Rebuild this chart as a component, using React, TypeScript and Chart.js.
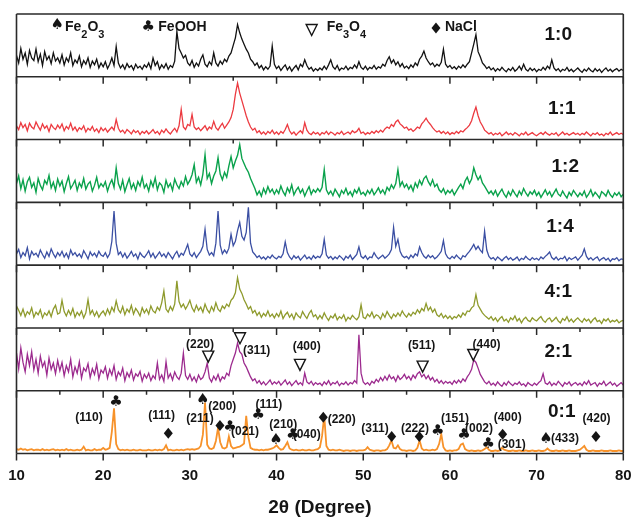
import React, { useEffect, useRef } from 'react';
import { Chart, registerables } from 'chart.js';

Chart.register(...registerables);

// ---- x sampling (2θ, degrees) ----
const ANGLE_START = 10;
const ANGLE_STEP = 0.25;
const X_MIN = 10;
const X_MAX = 80;
const X_LABEL_STEP = 10;
const MAJOR_TICKS = [10, 20, 30, 40, 50, 60, 70, 80];
const MINOR_TICKS = [15, 25, 35, 45, 55, 65, 75];

// ---- series (intensity in % of each panel's height), top panel first ----
const ratio10 = [
  34, 22, 45, 28, 38, 20, 42, 30, 26, 44, 24, 36, 18, 40, 27, 33, 21, 38, 25, 30,
  22, 35, 19, 30, 24, 38, 18, 27, 22, 33, 16, 26, 20, 30, 15, 25, 19, 28, 14, 22,
  16, 24, 13, 20, 30, 18, 48, 22, 14, 19, 12, 21, 15, 18, 11, 20, 14, 17, 12, 19,
  15, 22, 13, 30, 18, 24, 12, 19, 14, 21, 12, 18, 15, 25, 72, 45, 38, 30, 34, 22,
  18, 26, 15, 22, 17, 28, 35, 20, 16, 24, 19, 38, 22, 17, 25, 20, 28, 24, 33, 38,
  50, 62, 83, 70, 60, 52, 44, 38, 28, 24, 18, 22, 14, 18, 11, 16, 12, 17, 49, 20,
  13, 17, 10, 15, 19, 11, 16, 9, 14, 18, 11, 20, 16, 27, 18, 12, 15, 9, 13, 10,
  14, 11, 17, 12, 19, 27, 16, 12, 18, 10, 14, 12, 17, 11, 15, 13, 19, 14, 24, 15,
  12, 17, 11, 15, 13, 18, 12, 16, 14, 20, 17, 26, 32, 22, 27, 19, 24, 16, 21, 14,
  17, 13, 19, 15, 22, 18, 28, 33, 41, 30, 24, 19, 22, 16, 20, 17, 23, 44, 20, 15,
  18, 13, 16, 12, 17, 14, 19, 15, 20, 24, 38, 52, 67, 40, 32, 22, 18, 13, 16, 11,
  14, 9, 13, 10, 15, 11, 8, 13, 10, 15, 9, 12, 17, 11, 20, 12, 9, 14, 10, 13,
  8, 12, 10, 15, 11, 17, 13, 27, 14, 10, 13, 8, 12, 10, 15, 9, 12, 8, 11, 14,
  10, 7, 12, 9, 14, 10, 8, 13, 9, 12, 7, 11, 14, 9, 12, 8, 11, 13, 9, 12,
  10,
];
const ratio11 = [
  22, 16, 27, 19, 24, 14, 26, 20, 17, 28, 21, 15, 25, 18, 22, 13, 24, 19, 16, 23,
  18, 25, 14, 21, 17, 26, 15, 20, 13, 19, 16, 22, 12, 18, 15, 21, 13, 17, 11, 19,
  14, 18, 12, 16, 20, 15, 32, 18, 12, 15, 10, 16, 13, 9, 15, 11, 14, 8, 13, 10,
  14, 9, 12, 16, 10, 13, 8, 15, 11, 17, 12, 9, 14, 18, 12, 22, 48, 20, 16, 24,
  22, 40, 20, 16, 19, 14, 18, 22, 15, 20, 17, 29, 19, 15, 21, 26, 18, 23, 28, 35,
  48, 72, 90, 74, 62, 50, 38, 28, 20, 15, 18, 11, 14, 9, 12, 8, 13, 10, 15, 9,
  12, 8, 13, 10, 16, 24, 14, 9, 12, 7, 11, 14, 10, 27, 15, 10, 8, 12, 9, 11,
  7, 11, 9, 13, 8, 12, 10, 7, 11, 9, 13, 8, 10, 12, 9, 14, 11, 13, 18, 10,
  12, 8, 11, 9, 13, 10, 14, 11, 15, 12, 17, 20, 18, 24, 21, 28, 31, 25, 22, 18,
  20, 15, 17, 13, 16, 20, 18, 25, 29, 34, 28, 24, 19, 15, 12, 14, 10, 13, 9, 12,
  8, 11, 9, 13, 10, 14, 12, 16, 19, 23, 30, 42, 52, 38, 28, 22, 15, 12, 9, 11,
  7, 10, 8, 11, 6, 9, 12, 8, 10, 7, 11, 9, 6, 10, 8, 12, 7, 9, 11, 8,
  6, 9, 11, 8, 12, 9, 7, 10, 8, 11, 6, 9, 12, 8, 10, 7, 9, 11, 8, 10,
  7, 10, 8, 12, 9, 6, 10, 8, 11, 7, 9, 6, 10, 8, 12, 7, 9, 11, 8, 10,
  8,
];
const ratio12 = [
  30, 42, 22, 36, 18, 33, 40, 24, 31, 16, 38, 27, 20, 35, 29, 43, 23, 32, 19, 37,
  26, 34, 17, 30, 41, 22, 28, 35, 19, 31, 24, 38, 21, 29, 33, 18, 27, 40, 23, 30,
  25, 33, 18, 29, 36, 24, 55, 30, 21, 35, 17, 28, 38, 22, 30, 19, 33, 26, 40, 23,
  29, 18, 34, 25, 39, 20, 31, 27, 16, 35, 24, 30, 19, 37, 28, 22, 33, 26, 41, 29,
  35, 44, 60, 32, 40, 28, 45, 76, 38, 46, 30, 42, 50, 71, 45, 36, 48, 40, 58, 73,
  55, 66, 75, 92, 70, 62, 54, 48, 38, 30, 22, 12, 18, 10, 22, 14, 25, 16, 21, 13,
  20, 14, 26, 17, 11, 23, 16, 28, 12, 19, 24, 15, 21, 10, 18, 25, 13, 20, 16, 22,
  17, 24, 52, 20, 13, 18, 11, 21, 15, 9, 19, 14, 22, 12, 17, 10, 20, 15, 23, 13,
  16, 11, 19, 14, 21, 12, 17, 23, 15, 20, 13, 24, 19, 28, 22, 30, 52, 26, 33, 24,
  29, 21, 27, 18, 31, 24, 35, 28, 38, 42, 33, 27, 36, 25, 29, 20, 16, 22, 13, 19,
  15, 20, 12, 18, 24, 29, 22, 34, 40, 30, 37, 55, 44, 36, 42, 31, 26, 20, 14, 18,
  12, 19, 10, 16, 21, 13, 8, 17, 11, 20, 14, 9, 18, 12, 22, 15, 10, 17, 13, 19,
  11, 16, 8, 14, 20, 12, 17, 9, 15, 21, 13, 10, 18, 12, 7, 16, 11, 19, 14, 9,
  15, 11, 18, 8, 13, 20, 10, 16, 12, 7, 17, 14, 10, 19, 12, 8, 15, 11, 16, 9,
  13,
];
const ratio14 = [
  18, 25, 12, 20, 15, 28, 10, 22, 16, 19, 13, 24, 17, 11, 21, 14, 26, 18, 12, 20,
  15, 22, 13, 19, 11, 24, 16, 20, 14, 18, 12, 23, 17, 10, 21, 15, 19, 13, 22, 16,
  14, 20, 12, 18, 38, 86, 35, 17, 21, 13, 19, 11, 16, 22, 14, 18, 10, 20, 15, 12,
  17, 23, 13, 19, 11, 16, 21, 14, 18, 12, 20, 15, 10, 17, 22, 13, 19, 16, 24, 33,
  18, 14, 20, 12, 17, 22, 30, 57, 25, 16, 20, 15, 35, 86, 32, 18, 24, 19, 27, 49,
  31, 38, 55, 68, 46, 40, 52, 92, 35, 21, 17, 12, 15, 10, 13, 9, 14, 11, 16, 12,
  10, 14, 12, 18, 37, 20, 13, 9, 15, 11, 14, 8, 12, 16, 10, 13, 9, 15, 11, 14,
  12, 18, 41, 16, 11, 14, 9, 13, 10, 15, 12, 8, 14, 11, 16, 9, 13, 17, 29, 14,
  11, 15, 9, 13, 12, 20, 14, 10, 13, 16, 11, 14, 18, 25, 60, 30, 41, 22, 15, 12,
  14, 10, 16, 12, 18, 15, 29, 20, 14, 11, 16, 12, 15, 10, 13, 17, 22, 39, 18, 12,
  10, 14, 11, 16, 12, 9, 15, 13, 18, 22, 27, 33, 25, 30, 24, 20, 54, 24, 14, 10,
  12, 8, 13, 10, 7, 11, 14, 9, 12, 8, 10, 13, 7, 11, 9, 14, 10, 8, 12, 9,
  11, 8, 13, 10, 14, 17, 21, 12, 9, 13, 8, 11, 10, 14, 7, 12, 9, 11, 13, 8,
  12, 16, 26, 14, 9, 12, 8, 11, 13, 7, 10, 12, 8, 11, 6, 10, 9, 12, 7, 10,
  9,
];
const ratio41 = [
  35, 28, 20, 30, 18, 26, 22, 32, 17, 25, 21, 29, 16, 24, 20, 27, 18, 30, 36, 22,
  24, 44, 26, 19, 28, 21, 31, 17, 25, 20, 27, 16, 24, 45, 22, 28, 19, 26, 17, 23,
  27, 20, 30, 22, 33, 26, 43, 29, 24, 34, 21, 30, 25, 36, 22, 31, 26, 19, 32, 24,
  30, 22, 35, 27, 24, 33, 28, 40, 59, 30, 25, 34, 28, 38, 75, 42, 33, 38, 30, 36,
  44, 32, 26, 36, 28, 33, 25, 38, 29, 24, 34, 27, 40, 30, 26, 35, 31, 38, 34, 44,
  48, 56, 80, 62, 55, 45, 38, 30, 34, 24, 28, 20, 25, 17, 23, 19, 27, 18, 22, 16,
  23, 18, 27, 15, 21, 25, 17, 22, 14, 24, 19, 16, 26, 20, 15, 23, 28, 18, 21, 14,
  20, 15, 24, 17, 12, 19, 16, 22, 13, 18, 15, 21, 11, 17, 14, 20, 16, 13, 18, 37,
  17, 15, 22, 18, 25, 16, 21, 19, 14, 23, 17, 26, 20, 15, 22, 18, 24, 19, 27, 21,
  17, 23, 19, 25, 22, 29, 24, 31, 27, 39, 28, 33, 25, 30, 21, 18, 23, 16, 20, 15,
  19, 14, 18, 16, 21, 17, 24, 20, 27, 26, 32, 35, 53, 36, 30, 24, 20, 17, 14, 18,
  12, 16, 10, 15, 18, 11, 14, 9, 16, 13, 19, 11, 15, 8, 14, 17, 12, 10, 16, 13,
  11, 15, 18, 12, 9, 14, 16, 10, 13, 17, 11, 8, 15, 12, 18, 10, 14, 9, 13, 16,
  12, 9, 15, 11, 14, 8, 13, 16, 10, 12, 7, 14, 11, 15, 9, 12, 10, 13, 8, 11,
  12,
];
const ratio21 = [
  60, 35, 68, 45, 30, 58, 40, 62, 33, 50, 28, 55, 38, 46, 25, 52, 34, 44, 27, 48,
  32, 45, 24, 40, 30, 50, 22, 38, 28, 46, 20, 36, 31, 43, 21, 35, 26, 42, 19, 33,
  28, 38, 20, 34, 25, 40, 18, 30, 24, 36, 16, 29, 22, 33, 17, 27, 23, 31, 15, 26,
  20, 28, 16, 24, 19, 44, 18, 25, 15, 46, 20, 27, 17, 30, 22, 18, 28, 60, 24, 18,
  26, 16, 22, 14, 25, 18, 21, 30, 44, 20, 14, 23, 17, 26, 15, 22, 19, 28, 24, 40,
  50, 60, 76, 62, 58, 44, 38, 30, 22, 16, 19, 12, 16, 10, 14, 9, 13, 17, 10, 14,
  11, 15, 9, 13, 17, 10, 14, 8, 12, 16, 10, 13, 9, 28, 14, 11, 15, 9, 13, 10,
  12, 8, 14, 10, 16, 9, 13, 11, 15, 8, 12, 10, 14, 9, 13, 11, 16, 12, 89, 28,
  14, 10, 13, 9, 15, 12, 18, 14, 21, 16, 23, 17, 25, 19, 22, 15, 24, 18, 21, 26,
  19, 23, 17, 25, 20, 27, 30, 22, 26, 19, 24, 17, 21, 14, 18, 12, 16, 11, 15, 12,
  14, 10, 16, 12, 17, 13, 19, 15, 22, 27, 34, 49, 45, 36, 26, 20, 14, 11, 15, 9,
  12, 8, 14, 10, 7, 13, 9, 15, 11, 8, 12, 10, 14, 9, 11, 7, 13, 10, 8, 12,
  9, 13, 16, 27, 12, 10, 14, 8, 12, 9, 15, 11, 7, 13, 10, 14, 8, 11, 13, 9,
  12, 8, 14, 10, 16, 9, 11, 13, 7, 12, 10, 15, 8, 11, 14, 9, 12, 7, 10, 13,
  9,
];
const ratio01 = [
  7, 6, 8, 6, 7, 5, 6, 7, 5, 6, 6, 5, 7, 5, 6, 5, 6, 7, 5, 6,
  5, 6, 5, 7, 5, 6, 5, 5, 6, 5, 6, 11, 5, 6, 5, 5, 7, 5, 6, 6,
  9, 6, 7, 9, 35, 72, 15, 7, 5, 6, 5, 6, 5, 5, 6, 5, 5, 6, 5, 5,
  5, 6, 5, 5, 6, 5, 6, 5, 7, 13, 5, 6, 5, 5, 6, 5, 6, 5, 6, 7,
  6, 7, 6, 7, 8, 12, 30, 81, 14, 8, 7, 9, 20, 41, 18, 9, 8, 10, 27, 12,
  8, 9, 10, 11, 13, 16, 60, 26, 9, 7, 6, 6, 5, 6, 5, 6, 6, 7, 8, 10,
  13, 9, 6, 7, 12, 18, 8, 6, 5, 6, 5, 5, 6, 5, 5, 6, 5, 5, 6, 7,
  10, 28, 60, 12, 6, 5, 6, 5, 5, 6, 5, 4, 5, 5, 4, 5, 5, 4, 5, 5,
  5, 6, 10, 6, 5, 4, 5, 5, 4, 5, 5, 7, 13, 21, 9, 8, 13, 7, 5, 5,
  4, 5, 5, 4, 5, 9, 21, 8, 5, 6, 5, 5, 6, 5, 7, 15, 31, 10, 5, 4,
  5, 4, 5, 5, 7, 14, 16, 7, 5, 4, 5, 4, 4, 5, 4, 5, 7, 10, 6, 4,
  4, 5, 4, 5, 9, 6, 5, 4, 4, 5, 4, 4, 5, 4, 4, 5, 4, 4, 5, 4,
  4, 5, 4, 4, 5, 8, 5, 4, 4, 5, 4, 4, 5, 4, 4, 5, 4, 4, 4, 5,
  6, 9, 12, 6, 4, 4, 5, 4, 4, 4, 5, 4, 4, 4, 5, 4, 4, 4, 5, 4,
  4,
];

const SERIES = [ratio10, ratio11, ratio12, ratio14, ratio41, ratio21, ratio01];
const PANEL_LABELS = ['1:0', '1:1', '1:2', '1:4', '4:1', '2:1', '0:1'];
const PANEL_COLORS = ['#111111', '#ec3a40', '#0aa24c', '#3b4fa3', '#8e9a2c', '#9c2a8e', '#f7922a'];
const PANEL_WIDTHS = [1.3, 1.3, 1.4, 1.3, 1.3, 1.3, 1.8];
const PANEL_LABEL_X = [72.5, 72.9, 73.3, 72.7, 72.5, 72.5, 72.9];
const PANEL_LABEL_Y = [66.6, 49.8, 56.8, 61.3, 57.8, 62.3, 66.7];
const PANEL_COUNT = SERIES.length;

// legend (drawn in the top panel)
const LEGEND_MARKERS = ['spade', 'club', 'triangle', 'diamond'];
const LEGEND_MARKER_X = [14.71, 25.2, 44.05, 58.39];
const LEGEND_MARKER_Y = [82.5, 79.3, 74.5, 77.7];
const LEGEND_TEXT: [string, boolean][][] = [
  [['Fe', false], ['2', true], ['O', false], ['3', true]],
  [['FeOOH', false]],
  [['Fe', false], ['3', true], ['O', false], ['4', true]],
  [['NaCl', false]],
];
const LEGEND_TEXT_X = [15.59, 26.36, 45.78, 59.42];
const LEGEND_TEXT_Y = 79.3;

// 2:1 panel (Fe3O4) annotations
const FE3O4_HKL = ['(220)', '(311)', '(400)', '(511)', '(440)'];
const FE3O4_HKL_X = [31.17, 37.7, 43.47, 56.74, 64.23];
const FE3O4_HKL_Y = [72.9, 63.9, 70.2, 71.3, 72.9];
const FE3O4_MARK_X = [32.12, 35.78, 42.7, 56.85, 62.69];
const FE3O4_MARK_Y = [54.3, 83.6, 41.1, 38.4, 57.0];

// 0:1 panel annotations
const HKL_01 = ['(110)', '(111)', '(211)', '(200)', '(021)', '(111)', '(210)', '(040)', '(220)', '(311)', '(222)', '(151)', '(002)', '(301)', '(400)', '(433)', '(420)'];
const HKL_01_X = [18.36, 26.75, 31.17, 33.74, 36.36, 39.12, 40.77, 43.47, 47.51, 51.35, 55.96, 60.58, 63.35, 67.12, 66.66, 73.27, 76.92];
const HKL_01_Y = [57.8, 60.4, 56.2, 74.7, 34.9, 77.4, 45.5, 30.7, 53.5, 40.3, 40.3, 56.2, 40.3, 14.8, 57.2, 23.2, 56.2];
const MARK_01 = ['club', 'diamond', 'spade', 'diamond', 'club', 'club', 'spade', 'club', 'diamond', 'diamond', 'diamond', 'club', 'club', 'club', 'diamond', 'spade', 'diamond'];
const MARK_01_X = [21.48, 27.51, 31.48, 33.47, 34.63, 37.89, 39.93, 41.86, 45.39, 53.28, 56.46, 58.58, 61.61, 64.42, 66.08, 71.07, 76.84];
const MARK_01_Y = [81.7, 32.3, 85.4, 44.4, 42.8, 60.4, 21.7, 28.5, 57.8, 26.9, 26.9, 34.9, 28.5, 14.8, 30.7, 23.2, 26.9];

const FONT = "'Liberation Sans', Arial, Helvetica, sans-serif";
const SYMBOL_FONT = "'DejaVu Sans', sans-serif";
const INK = '#151515';

function drawMarker(ctx: CanvasRenderingContext2D, kind: string, px: number, py: number) {
  ctx.save();
  ctx.fillStyle = INK;
  ctx.strokeStyle = INK;
  if (kind === 'spade' || kind === 'club') {
    ctx.font = `15px ${SYMBOL_FONT}`;
    ctx.textAlign = 'center';
    ctx.textBaseline = 'middle';
    ctx.fillText(kind === 'spade' ? '\u2660' : '\u2663', px, py);
  } else if (kind === 'diamond') {
    ctx.beginPath();
    ctx.moveTo(px, py - 5.5);
    ctx.lineTo(px + 4.5, py);
    ctx.lineTo(px, py + 5.5);
    ctx.lineTo(px - 4.5, py);
    ctx.closePath();
    ctx.fill();
  } else if (kind === 'triangle') {
    ctx.lineWidth = 1.4;
    ctx.beginPath();
    ctx.moveTo(px - 5.5, py - 5.5);
    ctx.lineTo(px + 5.5, py - 5.5);
    ctx.lineTo(px, py + 5.5);
    ctx.closePath();
    ctx.stroke();
  }
  ctx.restore();
}

function drawChem(ctx: CanvasRenderingContext2D, parts: [string, boolean][], px: number, py: number) {
  ctx.save();
  ctx.fillStyle = INK;
  ctx.textAlign = 'left';
  ctx.textBaseline = 'middle';
  let cx = px;
  for (const [t, sub] of parts) {
    ctx.font = sub ? `bold 11px ${FONT}` : `bold 14px ${FONT}`;
    ctx.fillText(t, cx, sub ? py + 8 : py);
    cx += ctx.measureText(t).width;
  }
  ctx.restore();
}

function drawLabel(ctx: CanvasRenderingContext2D, text: string, px: number, py: number, size: number) {
  ctx.save();
  ctx.fillStyle = INK;
  ctx.font = `bold ${size}px ${FONT}`;
  ctx.textAlign = 'center';
  ctx.textBaseline = 'middle';
  ctx.fillText(text, px, py);
  ctx.restore();
}

const panelPlugin = {
  id: 'xrdPanels',
  afterDatasetsDraw(chart: any) {
    const { ctx, chartArea: a, scales } = chart;
    const xs = scales.x;
    const ys = scales.y;
    ctx.save();
    ctx.strokeStyle = '#2a2a2a';
    ctx.lineWidth = 1.6;
    ctx.beginPath();
    for (let b = 0; b <= PANEL_COUNT; b++) {
      const py = ys.getPixelForValue(b * 100);
      ctx.moveTo(a.left, py);
      ctx.lineTo(a.right, py);
    }
    ctx.moveTo(a.left, a.top);
    ctx.lineTo(a.left, a.bottom);
    ctx.moveTo(a.right, a.top);
    ctx.lineTo(a.right, a.bottom);
    ctx.stroke();

    ctx.lineWidth = 1.5;
    ctx.beginPath();
    for (let b = 0; b < PANEL_COUNT; b++) {
      const py = ys.getPixelForValue(b * 100);
      for (const t of MAJOR_TICKS) {
        const px = xs.getPixelForValue(t);
        ctx.moveTo(px, py);
        ctx.lineTo(px, py + 7);
      }
      for (const t of MINOR_TICKS) {
        const px = xs.getPixelForValue(t);
        ctx.moveTo(px, py);
        ctx.lineTo(px, py + 4);
      }
    }
    ctx.stroke();
    ctx.restore();

    // ratio labels
    PANEL_LABELS.forEach((lab, k) => {
      const yk = scales['y' + k];
      drawLabel(ctx, lab, xs.getPixelForValue(PANEL_LABEL_X[k]), yk.getPixelForValue(PANEL_LABEL_Y[k]), 19);
    });

    // legend in top panel
    const y0 = scales.y0;
    LEGEND_MARKERS.forEach((m, i) => {
      drawMarker(ctx, m, xs.getPixelForValue(LEGEND_MARKER_X[i]), y0.getPixelForValue(LEGEND_MARKER_Y[i]));
      drawChem(ctx, LEGEND_TEXT[i], xs.getPixelForValue(LEGEND_TEXT_X[i]), y0.getPixelForValue(LEGEND_TEXT_Y));
    });

    // 2:1 panel
    const y5 = scales.y5;
    FE3O4_HKL.forEach((t, i) => {
      drawLabel(ctx, t, xs.getPixelForValue(FE3O4_HKL_X[i]), y5.getPixelForValue(FE3O4_HKL_Y[i]), 12);
      drawMarker(ctx, 'triangle', xs.getPixelForValue(FE3O4_MARK_X[i]), y5.getPixelForValue(FE3O4_MARK_Y[i]));
    });

    // 0:1 panel
    const y6 = scales.y6;
    HKL_01.forEach((t, i) => {
      drawLabel(ctx, t, xs.getPixelForValue(HKL_01_X[i]), y6.getPixelForValue(HKL_01_Y[i]), 12);
    });
    MARK_01.forEach((m, i) => {
      drawMarker(ctx, m, xs.getPixelForValue(MARK_01_X[i]), y6.getPixelForValue(MARK_01_Y[i]));
    });
  },
};

export default function App() {
  const ref = useRef<HTMLCanvasElement>(null);

  useEffect(() => {
    const twoTheta = SERIES[0].map((_, i) => ANGLE_START + i * ANGLE_STEP);
    const scales: any = {
      x: {
        type: 'linear',
        position: 'bottom',
        min: X_MIN,
        max: X_MAX,
        grid: { display: true, drawOnChartArea: false, drawTicks: true, tickLength: 13, color: 'rgba(0,0,0,0)' },
        border: { display: false },
        ticks: {
          stepSize: X_LABEL_STEP,
          padding: 0,
          color: INK,
          autoSkip: false,
          maxRotation: 0,
          font: { family: FONT, size: 15, weight: 'bold' },
        },
        title: {
          display: true,
          text: '2\u03b8 (Degree)',
          color: INK,
          font: { family: FONT, size: 19, weight: 'bold', lineHeight: 1 },
          padding: { top: 13.5, bottom: 0 },
        },
      },
      y: { type: 'linear', display: false, min: 0, max: PANEL_COUNT * 100 },
    };
    SERIES.forEach((_, k) => {
      const below = PANEL_COUNT - 1 - k;
      scales['y' + k] = { type: 'linear', display: false, min: -below * 100, max: (PANEL_COUNT - below) * 100 };
    });

    const chart = new Chart(ref.current as HTMLCanvasElement, {
      type: 'line',
      data: {
        datasets: SERIES.map((vals, k) => ({
          label: PANEL_LABELS[k],
          data: vals.map((v, i) => ({ x: twoTheta[i], y: v })),
          yAxisID: 'y' + k,
          borderColor: PANEL_COLORS[k],
          borderWidth: PANEL_WIDTHS[k],
          pointRadius: 0,
          tension: 0,
          fill: false,
        })),
      },
      options: {
        responsive: false,
        animation: false,
        devicePixelRatio: 1,
        layout: { padding: { left: 16.5, right: 9.7, top: 14, bottom: 0 } },
        plugins: { legend: { display: false }, tooltip: { enabled: false } },
        scales,
      },
      plugins: [panelPlugin],
    } as any);
    return () => chart.destroy();
  }, []);

  return (
    <div style={{ position: 'absolute', left: 0, top: 0, width: 633, height: 517, background: '#fff' }}>
      <canvas ref={ref} width={633} height={517} style={{ display: 'block' }} />
    </div>
  );
}
